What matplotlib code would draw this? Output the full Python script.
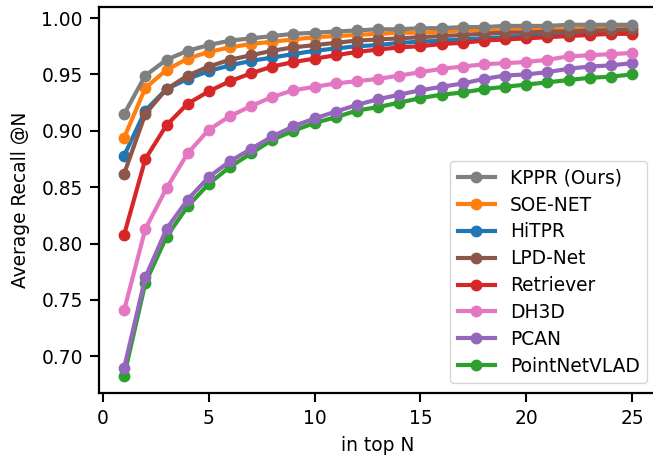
import numpy as np
import matplotlib
matplotlib.use("Agg")
import matplotlib.pyplot as plt

# top-N values
top_n = np.arange(1, 26)

kppr = [0.915, 0.949, 0.963, 0.971, 0.976, 0.980, 0.982, 0.984, 0.986, 0.987,
        0.988, 0.989, 0.990, 0.990, 0.991, 0.991, 0.992, 0.992, 0.993, 0.993,
        0.993, 0.994, 0.994, 0.994, 0.994]
soe_net = [0.894, 0.938, 0.954, 0.964, 0.970, 0.974, 0.977, 0.979, 0.981, 0.983,
           0.984, 0.985, 0.986, 0.987, 0.987, 0.988, 0.989, 0.989, 0.989, 0.990,
           0.990, 0.990, 0.991, 0.991, 0.991]
hitpr = [0.878, 0.918, 0.937, 0.946, 0.953, 0.958, 0.962, 0.965, 0.968, 0.971,
         0.973, 0.975, 0.976, 0.978, 0.979, 0.980, 0.981, 0.982, 0.983, 0.984,
         0.985, 0.986, 0.987, 0.987, 0.988]
lpd_net = [0.862, 0.915, 0.937, 0.949, 0.957, 0.963, 0.967, 0.971, 0.974, 0.976,
           0.978, 0.980, 0.981, 0.982, 0.983, 0.984, 0.985, 0.986, 0.987, 0.987,
           0.988, 0.988, 0.989, 0.989, 0.990]
retriever = [0.808, 0.875, 0.905, 0.924, 0.935, 0.944, 0.951, 0.957, 0.961, 0.964,
             0.967, 0.970, 0.972, 0.974, 0.975, 0.977, 0.978, 0.980, 0.981, 0.982,
             0.983, 0.984, 0.985, 0.986, 0.986]
dh3d = [0.741, 0.813, 0.849, 0.880, 0.901, 0.913, 0.922, 0.930, 0.936, 0.939,
        0.942, 0.944, 0.946, 0.949, 0.952, 0.955, 0.957, 0.959, 0.960, 0.961,
        0.963, 0.966, 0.967, 0.968, 0.969]
pcan = [0.690, 0.770, 0.813, 0.839, 0.859, 0.873, 0.884, 0.895, 0.904, 0.911,
        0.917, 0.923, 0.928, 0.932, 0.936, 0.939, 0.942, 0.946, 0.949, 0.950,
        0.952, 0.955, 0.957, 0.958, 0.960]
pointnetvlad = [0.683, 0.765, 0.806, 0.833, 0.853, 0.868, 0.880, 0.892, 0.900, 0.907,
                0.912, 0.918, 0.921, 0.925, 0.929, 0.932, 0.934, 0.937, 0.939, 0.941,
                0.943, 0.945, 0.947, 0.948, 0.950]

# drawing order follows the default colour cycle
series = [
    ("HiTPR", hitpr, "tab:blue"),
    ("SOE-NET", soe_net, "tab:orange"),
    ("PointNetVLAD", pointnetvlad, "tab:green"),
    ("Retriever", retriever, "tab:red"),
    ("PCAN", pcan, "tab:purple"),
    ("LPD-Net", lpd_net, "tab:brown"),
    ("DH3D", dh3d, "tab:pink"),
    ("KPPR (Ours)", kppr, "tab:gray"),
]
legend_order = ["KPPR (Ours)", "SOE-NET", "HiTPR", "LPD-Net",
                "Retriever", "DH3D", "PCAN", "PointNetVLAD"]

fs = 13.4
fig = plt.figure(figsize=(6.53, 4.59), dpi=100)
ax = fig.add_axes([0.1513, 0.1438, 0.8554, 0.841])

handles = {}
for name, vals, col in series:
    h, = ax.plot(top_n, vals, "-o", color=col, lw=3, ms=7.5, label=name)
    handles[name] = h

ax.set_xlim(-0.2, 26.2)
ax.set_ylim(0.6675, 1.0098)
ax.set_xticks([0, 5, 10, 15, 20, 25])
ax.set_yticks([0.70, 0.75, 0.80, 0.85, 0.90, 0.95, 1.00])
ax.set_yticklabels(["0.70", "0.75", "0.80", "0.85", "0.90", "0.95", "1.00"])
ax.tick_params(labelsize=fs, width=1.5, length=6.5, pad=5)
for s in ax.spines.values():
    s.set_linewidth(1.6)
ax.spines["right"].set_visible(False)

ax.set_xlabel("in top N", fontsize=fs, labelpad=6)
ax.set_ylabel("Average Recall @N", fontsize=fs, labelpad=8)

ax.legend([handles[n] for n in legend_order], legend_order, fontsize=fs,
          loc="lower right", bbox_to_anchor=(647 / 653, 76 / 459),
          bbox_transform=fig.transFigure, borderaxespad=0, labelspacing=0.42)

fig.savefig("out.png", dpi=100)
